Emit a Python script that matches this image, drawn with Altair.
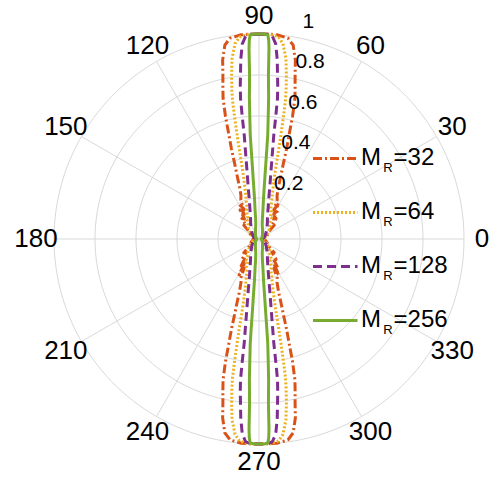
import altair as alt
import pandas as pd

# Normalised array-factor magnitude of the receive array, |AF|, versus the
# angular offset (deg) from broadside.  The patterns are symmetric about
# 90/270 deg, so one quarter of each lobe is listed.
SERIES = ["32", "64", "128", "256"]

OFF_32 = [0, 3, 5, 8.2, 10, 11.5, 12.4, 13.4, 14.3, 15.3, 16.1, 17, 18, 19, 20.5,
          22.5, 25, 27, 29, 31, 33, 36, 40, 44, 48, 53, 60, 70, 80, 90]
R_32 = [1, 1, 1, 0.99, 0.96, 0.89, 0.82, 0.76, 0.71, 0.62, 0.53, 0.46, 0.38, 0.33, 0.27,
        0.23, 0.21, 0.16, 0.20, 0.14, 0.17, 0.12, 0.13, 0.09, 0.10, 0.06, 0.05, 0.04, 0.03, 0.02]

OFF_64 = [0, 3, 5.5, 7, 8.5, 9.5, 10.3, 10.8, 11.3, 11.8, 12.4, 13, 13.8, 15, 17, 19,
          21, 24, 27, 31, 36, 42, 50, 60, 75, 90]
R_64 = [1, 1, 0.99, 0.96, 0.89, 0.81, 0.74, 0.69, 0.61, 0.53, 0.45, 0.38, 0.32, 0.27, 0.22, 0.19,
        0.16, 0.15, 0.12, 0.12, 0.09, 0.08, 0.06, 0.045, 0.03, 0.02]

OFF_128 = [0, 2.5, 3.8, 4.9, 5.8, 6.4, 7.0, 7.5, 7.8, 8.1, 8.7, 9.5, 10.5, 12, 13.5,
           15.5, 18, 22, 27, 34, 45, 60, 75, 90]
R_128 = [1, 1, 0.99, 0.955, 0.88, 0.81, 0.75, 0.69, 0.60, 0.51, 0.44, 0.37, 0.31, 0.25, 0.205,
         0.17, 0.14, 0.11, 0.09, 0.07, 0.05, 0.035, 0.025, 0.015]

OFF_256 = [0, 1.5, 2.5, 2.8, 3.0, 3.3, 3.6, 3.9, 4.3, 4.8, 5.0, 5.2, 5.6, 6.3, 7.5,
           9.5, 13, 20, 35, 60, 90]
R_256 = [1, 1, 0.995, 0.97, 0.93, 0.80, 0.74, 0.69, 0.60, 0.51, 0.43, 0.36, 0.28, 0.20, 0.15,
         0.10, 0.07, 0.05, 0.03, 0.02, 0.01]

PATTERNS = {"32": (OFF_32, R_32), "64": (OFF_64, R_64),
            "128": (OFF_128, R_128), "256": (OFF_256, R_256)}

COLORS = {"32": "#D95319", "64": "#EDB120", "128": "#7E2F8E", "256": "#77AC30"}
DASHES = {"32": [9, 3, 2, 3], "64": [2, 2], "128": [9, 5], "256": [1, 0]}

RINGS = [0.2, 0.4, 0.6, 0.8, 1.0]
RING_LABELS = ["0.2", "0.4", "0.6", "0.8", "1"]
SPOKES = [0, 30, 60, 90, 120, 150, 180, 210, 240, 270, 300, 330]

# Canvas geometry: 205 px per unit radius, pole at (259, 239)
W, H = 498, 482
PX = 205.0
CX, CY = 259.0, 239.0
X_DOM = [-CX / PX, (W - CX) / PX]
Y_DOM = [-(H - CY) / PX, CY / PX]

FONT = "Arial, Liberation Sans, sans-serif"
GRID = "#d9d9d9"
LINE_W = 3

xs = alt.Scale(domain=X_DOM, nice=False, zero=False)
ys = alt.Scale(domain=Y_DOM, nice=False, zero=False)


def closed_lobe(name, offs, rs):
    """Trace both lobes as one closed figure-eight path."""
    pts = list(zip(offs, rs))
    seq = [(90 - o, r) for o, r in pts]
    seq += [(270 + o, r) for o, r in reversed(pts)]
    seq += [(270 - o, r) for o, r in pts]
    seq += [(90 + o, r) for o, r in reversed(pts)]
    return pd.DataFrame({"series": name, "k": range(len(seq)),
                         "deg": [d for d, _ in seq], "r": [r for _, r in seq]})


polar_xy = dict(x="datum.r * cos(datum.deg * PI / 180)",
                y="datum.r * sin(datum.deg * PI / 180)")

# Concentric grid rings
rings = (
    alt.Chart(pd.DataFrame({"r": RINGS}))
    .transform_calculate(deg="sequence(0, 362, 2)")
    .transform_flatten(["deg"])
    .transform_calculate(**polar_xy)
    .mark_line(color=GRID, strokeWidth=1)
    .encode(x=alt.X("x:Q", scale=xs, axis=None),
            y=alt.Y("y:Q", scale=ys, axis=None),
            detail="r:N", order="deg:Q")
)

# Radial spokes every 30 degrees
spokes = (
    alt.Chart(pd.DataFrame({"deg": SPOKES}))
    .transform_calculate(r="1", x0="0", y0="0")
    .transform_calculate(**polar_xy)
    .mark_rule(color=GRID, strokeWidth=1)
    .encode(x=alt.X("x0:Q", scale=xs, axis=None), y=alt.Y("y0:Q", scale=ys, axis=None),
            x2="x:Q", y2="y:Q")
)

# Angle tick labels just outside the outer ring
angle_labels = (
    alt.Chart(pd.DataFrame({"deg": SPOKES}))
    .transform_calculate(r="1.088", label="'' + datum.deg")
    .transform_calculate(**polar_xy)
    .mark_text(font=FONT, fontSize=26, color="black", align="center", baseline="middle")
    .encode(x=alt.X("x:Q", scale=xs, axis=None), y=alt.Y("y:Q", scale=ys, axis=None),
            text="label:N")
)

# Radius tick labels along the 80-degree direction
radius_labels = (
    alt.Chart(pd.DataFrame({"r": RINGS, "label": RING_LABELS}))
    .transform_calculate(deg="80")
    .transform_calculate(**polar_xy)
    .mark_text(font=FONT, fontSize=21, color="black", align="left", baseline="middle",
               dx=8, dy=-15)
    .encode(x=alt.X("x:Q", scale=xs, axis=None), y=alt.Y("y:Q", scale=ys, axis=None),
            text="label:N")
)

# Beam pattern curves, smallest array first so the narrowest lobe sits on top
curves = []
for name in SERIES:
    offs, rs = PATTERNS[name]
    curves.append(
        alt.Chart(closed_lobe(name, offs, rs))
        .transform_calculate(**polar_xy)
        .mark_line(color=COLORS[name], strokeDash=DASHES[name], strokeWidth=LINE_W,
                   strokeJoin="round")
        .encode(x=alt.X("x:Q", scale=xs, axis=None),
                y=alt.Y("y:Q", scale=ys, axis=None),
                order="k:Q")
    )

# Legend: line sample plus "M" with subscript "R"
LEG_Y0, LEG_DY = 158.5, 54.0
legend_layers = []
for i, name in enumerate(SERIES):
    ly = LEG_Y0 + i * LEG_DY
    row = pd.DataFrame({"x1": [313.0], "x2": [357.5], "y": [ly],
                        "xm": [361.0], "ym": [ly + 6.2],
                        "xs": [383.3], "ys": [ly + 13.3],
                        "xe": [393.6], "tail": ["=" + name]})
    legend_layers.append(
        alt.Chart(row).mark_rule(color=COLORS[name], strokeDash=DASHES[name], strokeWidth=LINE_W)
        .encode(x=alt.X("x1:Q", scale=None), x2="x2:Q", y=alt.Y("y:Q", scale=None))
    )
    legend_layers.append(
        alt.Chart(row).mark_text(text="M", font=FONT, fontSize=24, align="left",
                                 baseline="alphabetic", color="black")
        .encode(x=alt.X("xm:Q", scale=None), y=alt.Y("ym:Q", scale=None))
    )
    legend_layers.append(
        alt.Chart(row).mark_text(text="R", font=FONT, fontSize=13, align="left",
                                 baseline="alphabetic", color="black")
        .encode(x=alt.X("xs:Q", scale=None), y=alt.Y("ys:Q", scale=None))
    )
    legend_layers.append(
        alt.Chart(row).mark_text(font=FONT, fontSize=24, align="left",
                                 baseline="alphabetic", color="black")
        .encode(x=alt.X("xe:Q", scale=None), y=alt.Y("ym:Q", scale=None), text="tail:N")
    )

chart = (
    alt.layer(rings, spokes, *curves, angle_labels, radius_labels, *legend_layers)
    .properties(width=W, height=H, padding=0, autosize=alt.AutoSizeParams(type="none"),
                background="white")
    .configure_view(strokeWidth=0)
)

chart.save("out.html", embed_options={"renderer": "svg", "actions": False})
